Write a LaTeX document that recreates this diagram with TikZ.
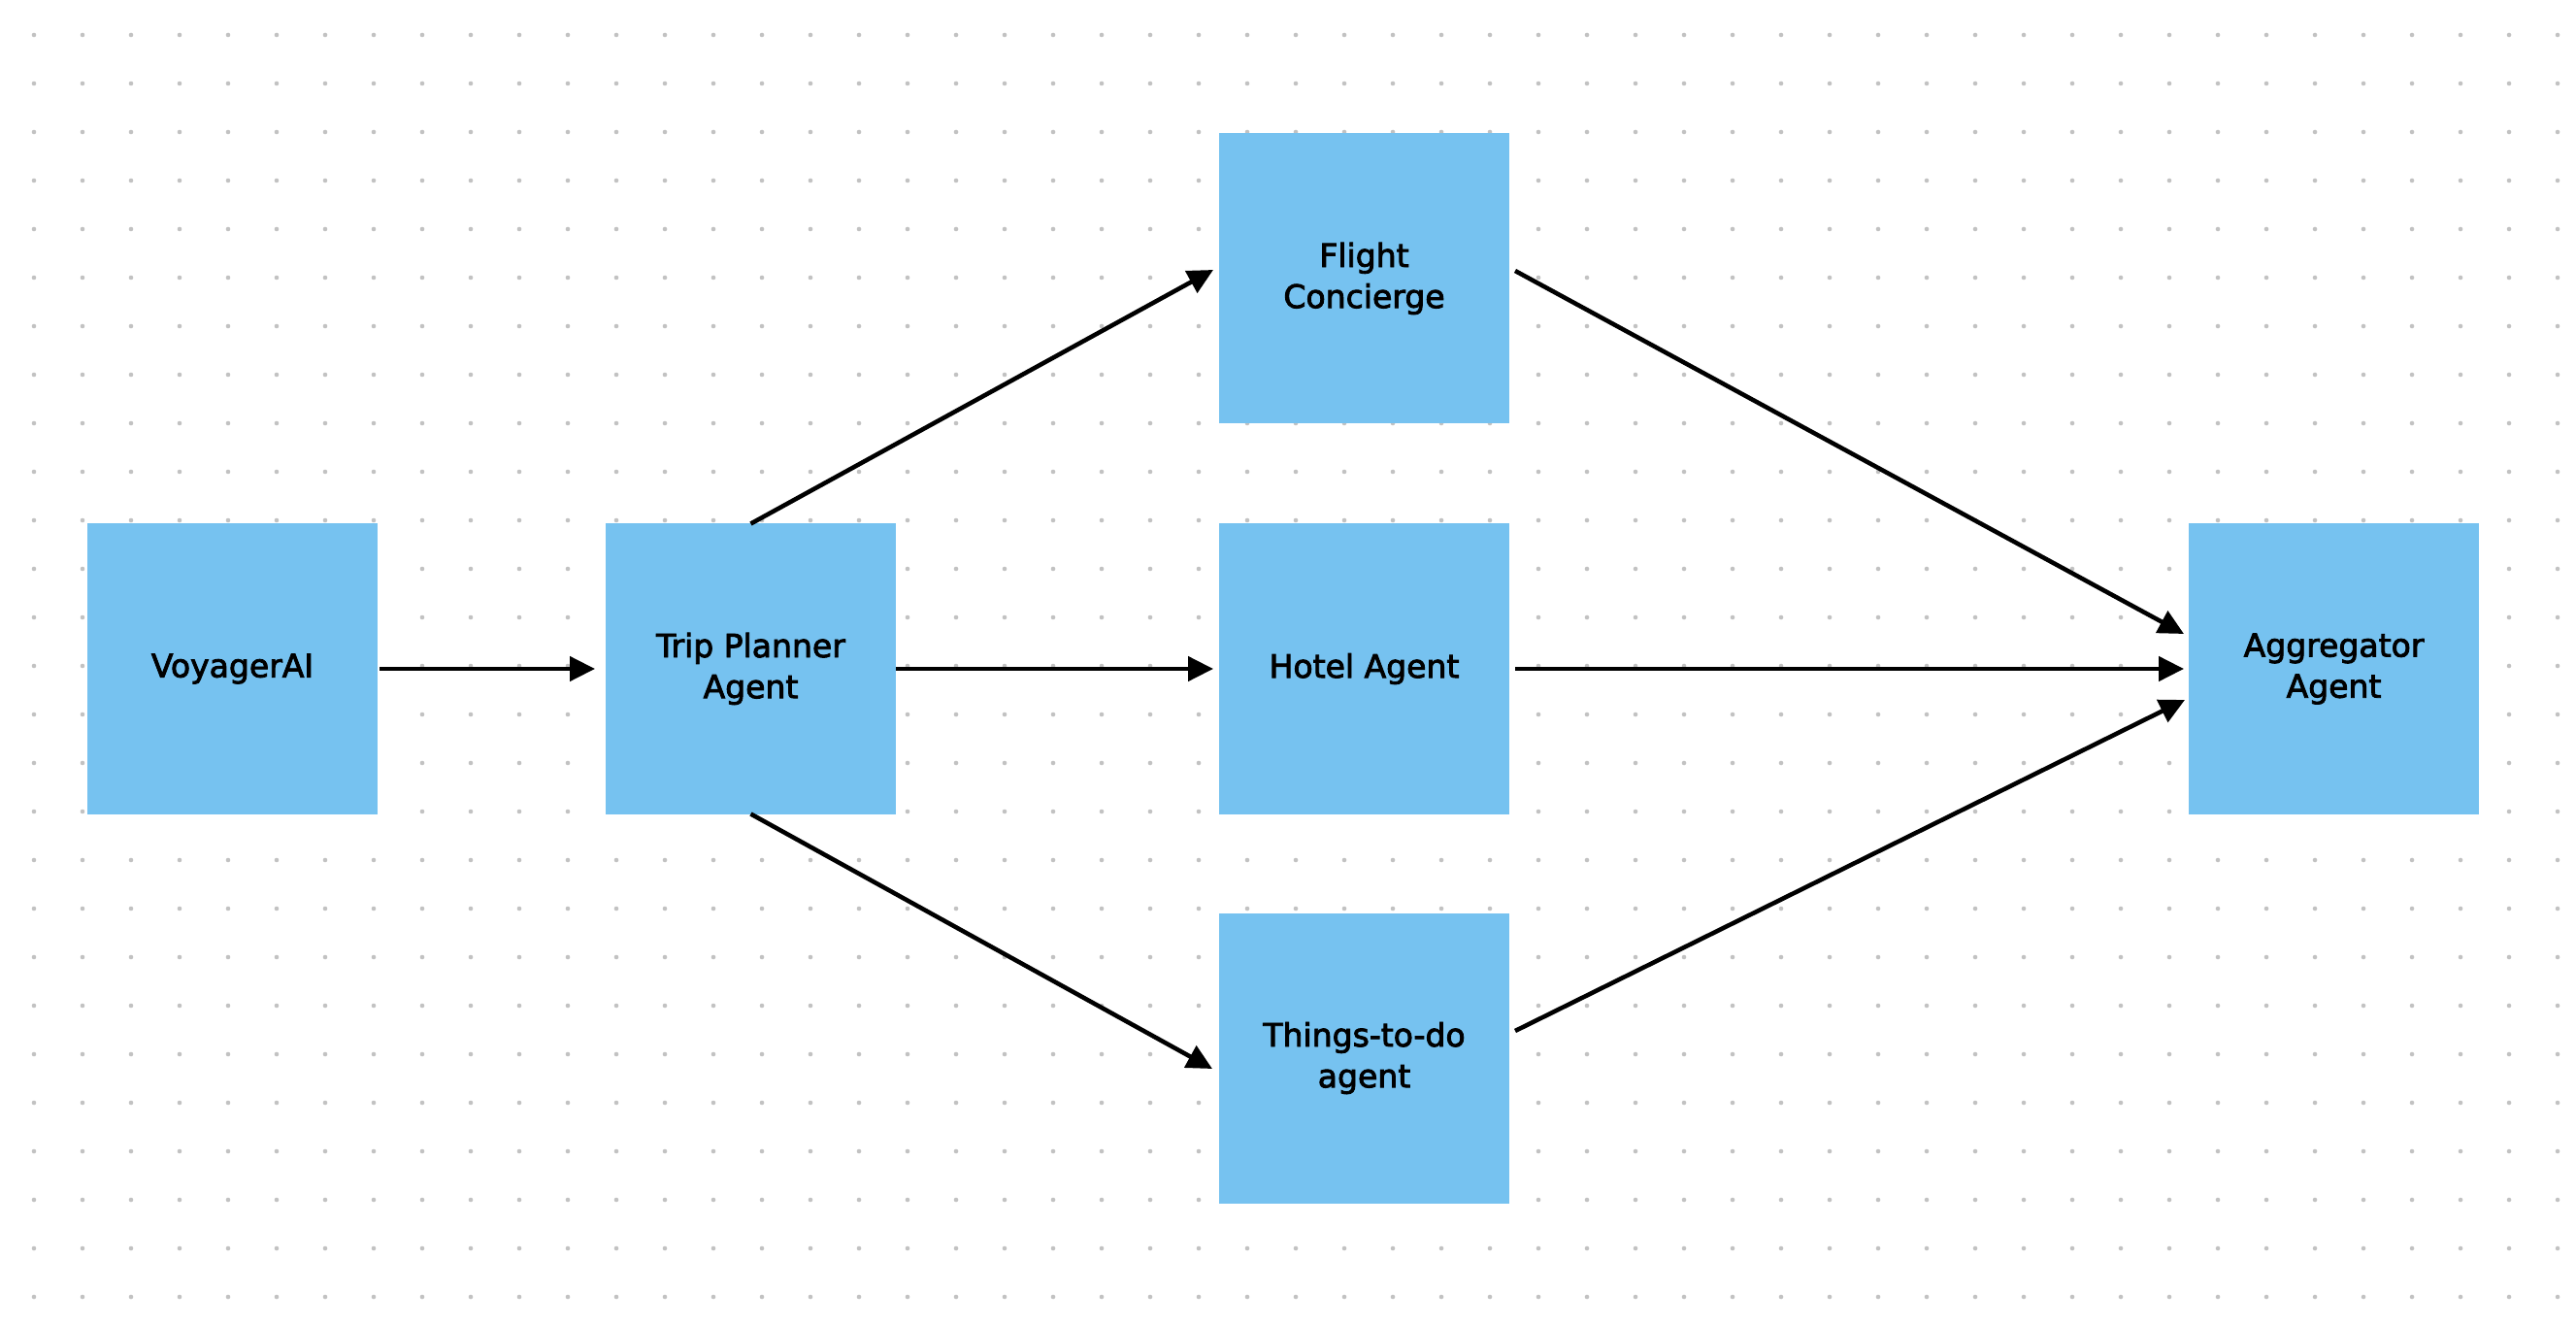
\documentclass[tikz,border=0pt]{standalone}
\usepackage{fontspec}
\newfontfamily\agentfont[FakeBold=2.6]{DejaVu Sans}
\usetikzlibrary{%
    arrows.meta,
    backgrounds,
    positioning
}

\definecolor{agentblue}{HTML}{76C2F0}
\definecolor{griddot}{HTML}{C2C2C2}

\tikzset{
    agent/.style={fill=agentblue, inner sep=0pt, outer sep=0pt,
                  minimum width=2.99cm, minimum height=2.99cm,
                  align=center, font=\agentfont\fontsize{9.4}{12}\selectfont},
    flow/.style={line width=1.3pt, -{Triangle[length=2.6mm,width=2.5mm]}}
}

\begin{document}
\begin{tikzpicture}
    \useasboundingbox (0,0) rectangle (26.54,-13.66);

    % dotted canvas
    \foreach \Col in {0,...,52}
        \foreach \Row in {0,...,26}
            \fill[griddot] (0.35+0.5*\Col,-0.36-0.5*\Row) circle (0.23mm);

    \node[agent] (voyager) at (2.395,-6.89) {VoyagerAI};
    \node[agent, right=2.35cm of voyager] (planner) {Trip Planner\\Agent};
    \node[agent, right=3.33cm of planner] (hotel) {Hotel Agent};
    \node[agent, above=1.03cm of hotel] (flight) {Flight\\Concierge};
    \node[agent, below=1.02cm of hotel] (things) {Things-to-do\\agent};
    \node[agent, right=7cm of hotel] (aggregator) {Aggregator\\Agent};

    \draw[flow] ([xshift=0.2mm]voyager.east) -- ([xshift=-1.1mm]planner.west);
    \draw[flow] (planner.east) -- ([xshift=-0.6mm]hotel.west);
    \draw[flow] (planner.north) -- ([xshift=-0.6mm,yshift=0.9mm]flight.west);
    \draw[flow] (planner.south) -- ([xshift=-0.7mm,yshift=-1.1mm]things.west);

    \draw[flow] ([xshift=0.6mm,yshift=0.8mm]flight.east)
                -- ([xshift=-0.5mm,yshift=3.6mm]aggregator.west);
    \draw[flow] ([xshift=0.6mm]hotel.east) -- ([xshift=-0.5mm]aggregator.west);
    \draw[flow] ([xshift=0.6mm,yshift=2.8mm]things.east)
                -- ([xshift=-0.4mm,yshift=-3.2mm]aggregator.west);
\end{tikzpicture}
\end{document}
